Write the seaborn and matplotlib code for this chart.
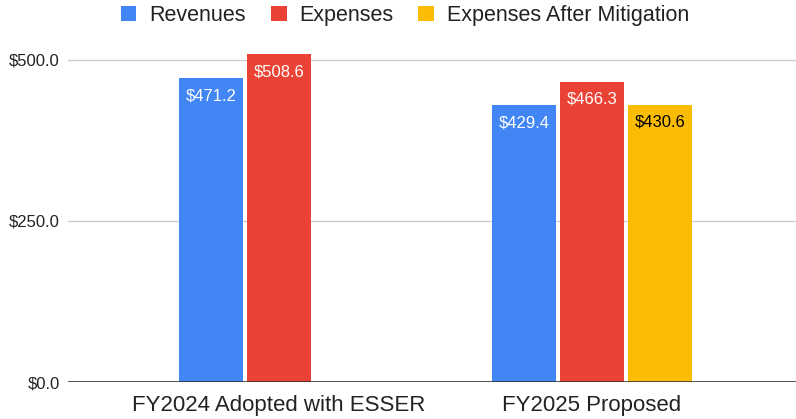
import matplotlib
matplotlib.use("Agg")
import matplotlib.pyplot as plt
import seaborn as sns
import pandas as pd
import numpy as np

categories = ["FY2024 Adopted with ESSER", "FY2025 Proposed"]
series = ["Revenues", "Expenses", "Expenses After Mitigation"]
revenues = [471.2, 429.4]
expenses = [508.6, 466.3]
mitigated = [np.nan, 430.6]
colors = ["#4285F4", "#EA4335", "#FBBC04"]
label_colors = ["white", "white", "black"]
yticks = [0, 250, 500]

rows = []
for s, vals in zip(series, [revenues, expenses, mitigated]):
    for c, v in zip(categories, vals):
        if not np.isnan(v):
            rows.append({"Category": c, "Series": s, "Value": v})
df = pd.DataFrame(rows)

sns.set_theme(style="white")
plt.rcParams["font.family"] = ["Liberation Sans", "DejaVu Sans"]

fig = plt.figure(figsize=(7.96, 4.19), dpi=100)
ax = fig.add_axes([68/796, 37/419, 1 - 68/796, (382-47)/419])

sns.barplot(data=df, x="Category", y="Value", hue="Series", order=categories,
            hue_order=series, palette=colors, width=0.65, gap=0.06,
            saturation=1, ax=ax, legend=True, linewidth=0)

for cont, tc in zip(ax.containers, label_colors):
    for p in cont:
        h = p.get_height()
        if np.isnan(h):
            continue
        ax.annotate(f"${h:.1f}", xy=(p.get_x() + p.get_width()/2, h),
                    xytext=(0, -12.5), textcoords="offset points",
                    ha="center", va="center", color=tc, fontsize=12)

ax.set_ylim(0, 520)
ax.set_xlim((68-279)/313, (796-279)/313)
ax.set_yticks(yticks)
ax.set_yticklabels([f"${v:.1f}" for v in yticks], fontsize=12, color="#222222")
ax.tick_params(axis="y", length=0, pad=6)
ax.tick_params(axis="x", length=0, pad=9, labelsize=16, labelcolor="#222222")
ax.set_xlabel("")
ax.set_ylabel("")
for s in ax.spines.values():
    s.set_visible(False)
for v in yticks[1:]:
    ax.axhline(v, color="#cccccc", lw=1, zorder=0)
ax.axhline(0, color="#333333", lw=1.2, zorder=3)

handles, labels = ax.get_legend_handles_labels()
ax.get_legend().remove()
leg = fig.legend(handles, labels, loc="center", bbox_to_anchor=(405/796, 1 - 15.5/419),
                 ncol=3, frameon=False, fontsize=15.5, handlelength=0.74, handleheight=0.74,
                 handletextpad=0.6, columnspacing=1.15, borderpad=0)
for t in leg.get_texts():
    t.set_color("#222222")

fig.savefig("out.png", dpi=100)
